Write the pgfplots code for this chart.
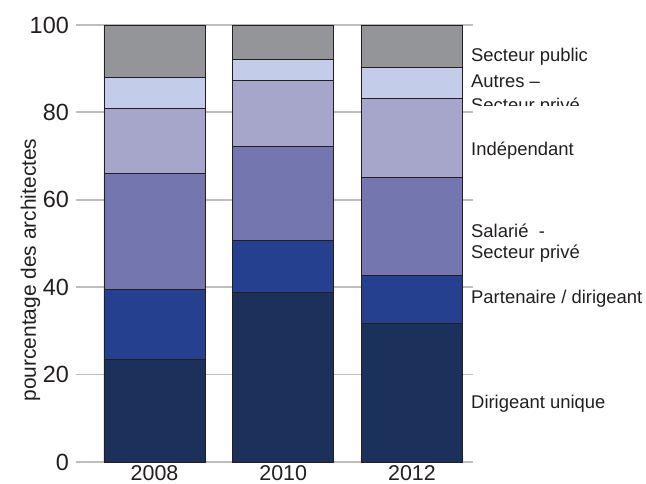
\documentclass[border=0pt]{standalone}
\usepackage{fontspec}
\setmainfont{Liberation Sans}
\usepackage{pgfplots}
\pgfplotsset{compat=1.18}
\definecolor{cDU}{RGB}{27,48,91}
\definecolor{cPD}{RGB}{36,64,142}
\definecolor{cSA}{RGB}{116,118,175}
\definecolor{cIN}{RGB}{166,166,203}
\definecolor{cAU}{RGB}{195,204,232}
\definecolor{cSP}{RGB}{147,149,152}
\definecolor{edge}{RGB}{35,31,32}
\definecolor{txt}{RGB}{35,31,32}
\definecolor{gridc}{RGB}{190,190,192}
\begin{document}
\begin{tikzpicture}
\begin{axis}[
  at={(0,0)}, anchor=south west,
  scale only axis, width=397bp, height=437bp,
  xmin=-0.61, xmax=2.474, ymin=0, ymax=100,
  ybar stacked, bar width=0.785,
  xtick=data, xticklabels={2008,2010,2012},
  ytick={0,20,40,60,80,100},
  ymajorgrids, grid style={draw=gridc, line width=1.8bp},
  axis line style={draw=none}, major tick length=0pt, tick style={draw=none},
  clip=false,
  /pgf/number format/assume math mode=true,
  tick label style={font=\fontsize{23.5}{28}\selectfont, text=txt, inner sep=0pt},
  yticklabel style={xshift=-7bp},
  xticklabel style={yshift=-3.5bp, font=\fontsize{21.5}{26}\selectfont},
]
\addplot[fill=cDU, draw=edge, line width=0.9bp] coordinates {(0,23.4) (1,38.7) (2,31.7)};
\addplot[fill=cPD, draw=edge, line width=0.9bp] coordinates {(0,16.0) (1,12.0) (2,11.0)};
\addplot[fill=cSA, draw=edge, line width=0.9bp] coordinates {(0,26.6) (1,21.6) (2,22.5)};
\addplot[fill=cIN, draw=edge, line width=0.9bp] coordinates {(0,14.9) (1,15.0) (2,18.0)};
\addplot[fill=cAU, draw=edge, line width=0.9bp] coordinates {(0,7.0) (1,4.9) (2,7.0)};
\addplot[fill=cSP, draw=edge, line width=0.9bp] coordinates {(0,12.1) (1,7.8) (2,9.8)};
\end{axis}
\begin{scope}[every node/.style={anchor=base west, inner sep=0pt, font=\fontsize{18.5}{22}\selectfont, text=txt}]
\node at (395bp,400.3bp) {Secteur public};
\node at (395bp,374.7bp) {Autres –};
\begin{scope}
\clip (380bp,356bp) rectangle (640bp,372bp);
\node at (395bp,350.4bp) {Secteur privé};
\end{scope}
\node at (395bp,306bp) {Indépendant};
\node at (395bp,224.7bp) {Salarié\ \ -};
\node at (395bp,203.7bp) {Secteur privé};
\node at (395bp,158.7bp) {Partenaire / dirigeant};
\node at (395bp,53.7bp) {Dirigeant unique};
\end{scope}
\node[rotate=90, anchor=base, inner sep=0pt, font=\fontsize{21}{25}\selectfont, text=txt] at (-40bp,192bp) {pourcentage des architectes};
\pgfresetboundingbox
\path[use as bounding box] (-76bp,-22bp) rectangle (570bp,462bp);
\end{tikzpicture}
\end{document}
